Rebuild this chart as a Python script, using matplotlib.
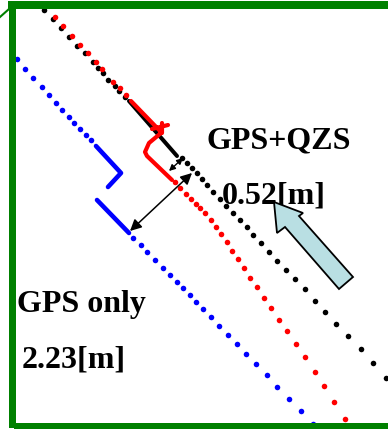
import numpy as np
import matplotlib
matplotlib.use("Agg")
import matplotlib.pyplot as plt
from matplotlib.patches import Rectangle, Polygon

nan = np.nan

# ---- data (image-like coordinates, y grows downward) ----
black_dots_x = [44, 53, 61, 69, 77, 85, 93, 98, 103, 108, 115, 119, 125,
                182, 187, 192, 197, 202, 207, 213, 220, 226, 233, 240, 247, 253,
                261, 269, 277, 286, 295, 305, 315, 325, 336, 348, 361, 373, 386]
black_dots_y = [10, 19, 28, 37, 46, 53, 62, 68, 73, 80, 86, 91, 97,
                158, 163, 168, 173, 179, 185, 192, 199, 206, 213, 220, 227, 235,
                243, 252, 261, 270, 279, 289, 301, 312, 324, 336, 349, 363, 378]
black_path_x = [129, 177]
black_path_y = [101, 156]

red_dots_x = [55, 63, 72, 80, 88, 96, 102, 113, 120, 126,
              175, 180, 186, 191, 196, 200, 205, 211, 216, 221, 227, 232, 238,
              244, 250, 257, 264, 271, 279, 287, 296, 305, 315, 324, 334, 345]
red_dots_y = [17, 26, 36, 45, 53, 62, 69, 82, 88, 95,
              182, 188, 194, 199, 204, 208, 213, 220, 227, 234, 242, 251, 259,
              268, 278, 287, 298, 308, 320, 331, 344, 357, 372, 386, 402, 419]
red_path_x = [131, 161, nan, 152, 168, nan, 162, 162, nan, 161, 149, 145, 147, 172]
red_path_y = [101, 132, nan, 129, 125, nan, 123, 133, nan, 133, 143, 152, 156, 180]

blue_dots_x = [17, 25, 33, 42, 49, 56, 62, 69, 74, 80, 86, 91,
               133, 141, 147, 155, 163, 170, 177, 183, 190, 196, 203, 211, 219,
               228, 237, 246, 256, 267, 277, 289, 301, 313]
blue_dots_y = [59, 69, 78, 87, 95, 103, 110, 117, 123, 129, 135, 140,
               238, 245, 252, 260, 268, 275, 282, 288, 295, 302, 309, 317, 326,
               335, 344, 354, 364, 375, 387, 399, 411, 424]
blue_path_x = [96, 121, 108, nan, 97, 129]
blue_path_y = [146, 173, 187, nan, 200, 233]

labels = ["GPS+QZS", "0.52[m]", "GPS only", "2.23[m]"]
label_x = [207, 222, 17, 22]
label_y = [148, 203, 312, 368]

# distance arrows: (tail_x, tail_y, head_x, head_y)
gap_qzs = (169, 171, 183, 158)
gap_gps = (130, 231, 192, 173)

# ---- figure ----
fig = plt.figure(figsize=(3.88, 4.29), dpi=100)
ax = fig.add_axes([0, 0, 1, 1])
ax.set_xlim(0, 388)
ax.set_ylim(429, 0)
ax.axis("off")

ms = 4.0
ax.plot(black_path_x, black_path_y, color="black", lw=2.9, solid_capstyle="round", zorder=3)
ax.plot(black_dots_x, black_dots_y, ls="none", marker="o", ms=ms, color="black", mec="none", zorder=3)
ax.plot(red_path_x, red_path_y, color="#ff0000", lw=3.0, solid_capstyle="round",
        solid_joinstyle="round", zorder=4)
ax.plot(red_dots_x, red_dots_y, ls="none", marker="o", ms=ms, color="#ff0000", mec="none", zorder=4)
ax.plot(blue_path_x, blue_path_y, color="#0000ff", lw=3.3, solid_capstyle="round",
        solid_joinstyle="round", zorder=4)
ax.plot(blue_dots_x, blue_dots_y, ls="none", marker="o", ms=ms, color="#0000ff", mec="none", zorder=4)

ax.annotate("", xy=gap_qzs[2:], xytext=gap_qzs[:2],
            arrowprops=dict(arrowstyle="<|-|>", mutation_scale=9, lw=1.0, color="black",
                            shrinkA=0, shrinkB=0), zorder=6)
ax.annotate("", xy=gap_gps[2:], xytext=gap_gps[:2],
            arrowprops=dict(arrowstyle="<|-|>", mutation_scale=17, lw=1.1, color="black",
                            shrinkA=0, shrinkB=0), zorder=6)

for t, x, y in zip(labels, label_x, label_y):
    ax.text(x, y, t, fontsize=23, fontweight="bold", family="Liberation Serif",
            ha="left", va="baseline", color="black", zorder=5)

# big light-blue pointer arrow
arrow_pts = [(274, 202), (277, 233), (285, 227), (339, 289), (353, 277), (299, 216), (303, 213)]
ax.add_patch(Polygon(arrow_pts, closed=True, facecolor="#b9dfe3", edgecolor="black",
                     lw=1.3, joinstyle="miter", zorder=7))

# green frame
g = "#008000"
ax.add_patch(Rectangle((8, 0.5), 380, 8, color=g, lw=0, zorder=8))
ax.add_patch(Rectangle((8.5, 0.5), 7.5, 427.5, color=g, lw=0, zorder=8))
ax.add_patch(Rectangle((14, 422.5), 374, 6.5, color=g, lw=0, zorder=8))
ax.plot([0, 9], [17, 9], color=g, lw=1.5, zorder=8)

fig.savefig("out.png", dpi=100)
